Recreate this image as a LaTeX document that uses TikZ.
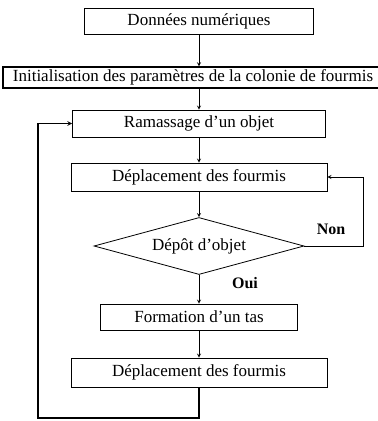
\documentclass[tikz,border=0pt]{standalone}
\usepackage{fontspec}
\setmainfont{Liberation Serif}
\usetikzlibrary{shapes.geometric,positioning}

\tikzset{
  boite/.style={draw, rectangle, line width=0.8pt, inner sep=2pt, font=\fontsize{17}{19}\selectfont},
  losange/.style={draw, diamond, aspect=3.7, line width=0.8pt, inner sep=0pt, font=\fontsize{17}{19}\selectfont},
  fleche/.style={->, >=stealth, line width=0.8pt},
  retour/.style={->, >=stealth, line width=1.1pt},
  reponse/.style={font=\fontsize{16}{18}\selectfont\bfseries}
}

\begin{document}
\begin{tikzpicture}[x=1pt, y=-1pt, node distance=55pt]
\useasboundingbox (0,0) rectangle (378,421);

\node[boite, line width=1.4pt, minimum width=229pt, minimum height=26pt] (donnees) at (199,21.5) {Données numériques};
\node[boite, line width=1.4pt, minimum width=380pt, minimum height=21pt, below of=donnees, yshift=-1pt, xshift=-6pt] (init) {Initialisation des paramètres de la colonie de fourmis};
\node[boite, minimum width=253pt, minimum height=27pt, below of=donnees, yshift=-47pt] (ramassage) {Ramassage d'un objet};
\node[boite, minimum width=256pt, minimum height=28pt, below of=ramassage, yshift=1.5pt] (deplac1) {Déplacement des fourmis};

\node[losange, minimum width=210pt, minimum height=57pt, below of=deplac1, yshift=-14pt] (depot) {Dépôt d'objet};
\node[reponse, right of=depot, xshift=77pt, yshift=17pt] (non) {Non};
\node[reponse, below of=depot, xshift=46pt, yshift=18pt] (oui) {Oui};
\coordinate[right of=depot, xshift=109pt] (coinnon);

\node[boite, minimum width=197pt, minimum height=26pt, below of=depot, yshift=-16pt] (tas) {Formation d'un tas};
\node[boite, minimum width=256pt, minimum height=29pt, below of=tas, yshift=-0.5pt] (deplac2) {Déplacement des fourmis};
\coordinate (coinretour) at (38,418);

\draw[fleche] (donnees) -- (donnees |- init.north);
\draw[fleche] (donnees |- init.south) -- (ramassage);
\draw[fleche] (ramassage) -- (deplac1);
\draw[fleche] (deplac1) -- (depot);
\draw[fleche] (depot) -- (tas);
\draw[fleche] (tas) -- (deplac2);

\draw[fleche] (depot.east) -- (coinnon) |- (deplac1.east);
\draw[retour] (deplac2.south) |- (coinretour) |- (ramassage.west);
\end{tikzpicture}
\end{document}
